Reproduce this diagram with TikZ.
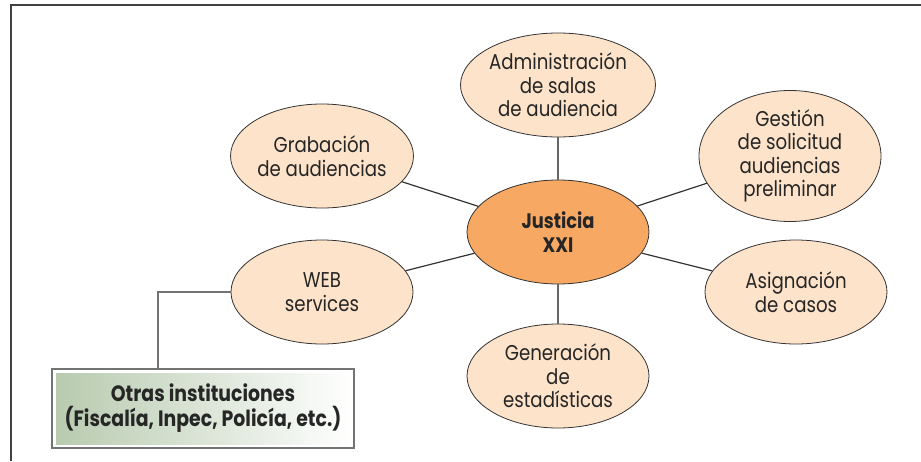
\documentclass[tikz,border=0pt]{standalone}
\usepackage{fontspec}
\setmainfont[FakeStretch=0.85]{Poppins}
\usetikzlibrary{shapes.geometric}
\definecolor{peach}{HTML}{FDE3CA}
\definecolor{hubfill}{HTML}{F7A964}
\definecolor{instgreen}{HTML}{B7CAAE}
\begin{document}
\begin{tikzpicture}[x=0.5pt, y=-0.5pt,
		mod/.style={draw=black!80, ellipse, fill=peach, minimum width=91pt, minimum height=52pt, inner sep=0pt, align=center, font=\fontsize{10.7}{11.7}\selectfont, text=black!85},
		hub/.style={mod, fill=hubfill, font=\fontsize{10.5}{12}\selectfont\bfseries},
		inst/.style={draw=black!55, line width=1pt, fill=white, minimum width=151pt, minimum height=39.5pt, inner sep=0pt, align=center, font=\fontsize{11.1}{12.5}\selectfont\bfseries, text=black!85,
			path picture={\shade[left color=instgreen, right color=white] ([shift={(2pt,-2pt)}]path picture bounding box.north west) rectangle ([shift={(-2pt,2pt)}]path picture bounding box.south east);}},
		link/.style={draw=black!80, line width=0.6pt},
		spoke/.style={draw=black!60, line width=1pt}]
				\useasboundingbox (0,0) rectangle (921,461);
				\draw[black!75, line width=1pt] (11,461) -- (11,5) -- (921,5);
				
				\node[hub] (jus) at (558,232) {Justicia\\XXI};
				\node[mod] (adm) at (558,85) {Administración\\de salas\\de audiencia};
				\node[mod] (ges) at (790,156) {Gestión\\de solicitud\\audiencias\\preliminar};
				\node[mod] (asi) at (796,292) {Asignación\\de casos};
				\node[mod] (gen) at (558,376) {Generación\\de\\estadísticas};
				\node[mod] (web) at (322,292) {WEB\\services};
				\node[mod] (gra) at (322,156) {Grabación\\de audiencias};
				\node[inst] (otr) at (203,408.5) {Otras instituciones\\(Fiscalía, Inpec, Policía, etc.)};
				
				\draw[spoke] (jus) -- (adm);
				\draw[spoke] (jus) -- (gen);
				\draw[link] (jus) -- (ges);
				\draw[link] (jus) -- (asi);
				\draw[link] (jus) -- (web);
				\draw[link] (jus) -- (gra);
				\draw[black!55, line width=0.7pt] (web.west) -| ([xshift=53.5pt]otr.north west);
			\end{tikzpicture}
\end{document}
